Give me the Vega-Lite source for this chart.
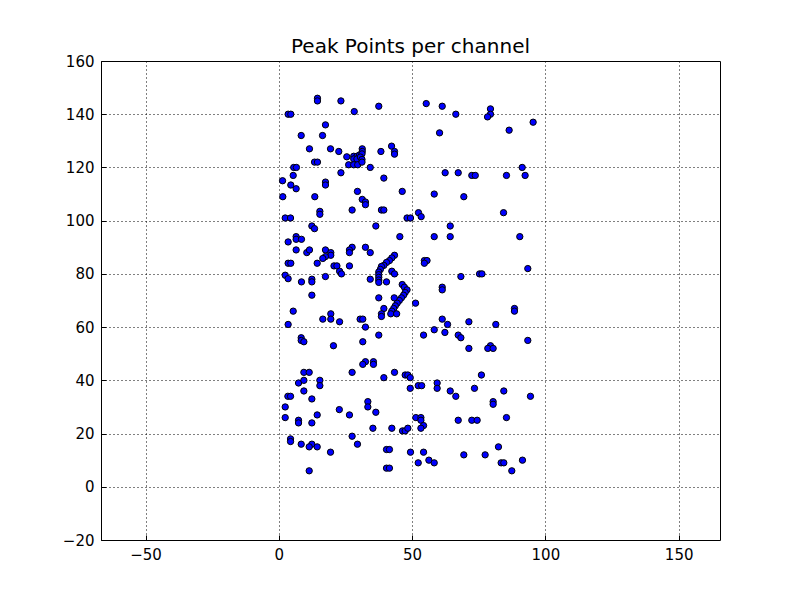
{
  "$schema": "https://vega.github.io/schema/vega-lite/v6.json",
  "width": 800,
  "height": 600,
  "autosize": {"type": "fit", "contains": "padding"},
  "padding": {"left": 62, "right": 80, "top": 37, "bottom": 38},
  "background": "white",
  "title": {"text": "Peak Points per channel", "font": "DejaVu Sans", "fontSize": 20, "fontWeight": "normal", "color": "black", "offset": -3},
  "config": {
    "view": {"stroke": "black", "strokeWidth": 1},
    "axis": {
      "labelFont": "DejaVu Sans", "labelFontSize": 15, "labelColor": "black",
      "grid": true, "gridColor": "black", "gridDash": [1, 3], "gridOpacity": 1, "gridWidth": 1,
      "domain": false, "tickColor": "black", "tickSize": -5, "labelPadding": 12, "title": null
    }
  },
  "data": {"values": [
    {"x":14.5,"y":146},{"x":14.5,"y":145},{"x":23.3,"y":145},{"x":3.5,"y":140},{"x":4.5,"y":140},
    {"x":17.5,"y":136},{"x":8.4,"y":132},{"x":16.4,"y":132},{"x":11.5,"y":127},{"x":19.4,"y":127},
    {"x":22.5,"y":126},{"x":13.4,"y":122},{"x":14.5,"y":122},{"x":5.6,"y":120},{"x":6.6,"y":120},
    {"x":23.3,"y":118},{"x":5.4,"y":117},{"x":1.4,"y":115},{"x":17.5,"y":114.5},{"x":17.5,"y":113.4},
    {"x":4.5,"y":113.4},{"x":6.5,"y":112},{"x":1.5,"y":109},{"x":13.5,"y":109},{"x":15.4,"y":103.5},
    {"x":15.4,"y":102.4},{"x":2.4,"y":101},{"x":4.4,"y":101},{"x":28.3,"y":141},{"x":37.5,"y":143},
    {"x":31.3,"y":127},{"x":31.3,"y":126},{"x":25.5,"y":124},{"x":28.1,"y":124.2},{"x":29.3,"y":124.2},
    {"x":30.3,"y":124.7},{"x":31.2,"y":125.1},{"x":28.1,"y":123.2},{"x":29.3,"y":123.2},{"x":30.6,"y":123.9},
    {"x":31.2,"y":123},{"x":26.2,"y":121},{"x":28.1,"y":121},{"x":29.6,"y":121},{"x":31.2,"y":122},
    {"x":34.3,"y":120},{"x":38.3,"y":126},{"x":42.3,"y":128},{"x":43.4,"y":126},{"x":43.4,"y":125},
    {"x":39.4,"y":116},{"x":29.5,"y":111},{"x":31.3,"y":108},{"x":32.5,"y":107},{"x":32.5,"y":106},
    {"x":46.3,"y":111},{"x":27.5,"y":104},{"x":38.5,"y":104},{"x":39.4,"y":104},{"x":55.3,"y":144},
    {"x":61.3,"y":143},{"x":66.4,"y":140},{"x":60.3,"y":133},{"x":62.4,"y":118},{"x":67.3,"y":118},
    {"x":72.4,"y":117},{"x":73.7,"y":117},{"x":58.3,"y":110},{"x":69.4,"y":109},{"x":52.4,"y":103},
    {"x":53.4,"y":101.5},{"x":48.1,"y":101},{"x":49.4,"y":101},{"x":79.4,"y":142},{"x":79.4,"y":140},
    {"x":78.3,"y":139},{"x":95.4,"y":137},{"x":86.4,"y":134},{"x":91.3,"y":120},{"x":85.4,"y":117},
    {"x":92.4,"y":117},{"x":84.3,"y":103},{"x":12.4,"y":98},{"x":13.4,"y":97},{"x":3.5,"y":92},
    {"x":6.5,"y":94},{"x":6.5,"y":93},{"x":8.5,"y":93},{"x":6.5,"y":89},{"x":10.5,"y":88},
    {"x":11.5,"y":89},{"x":17.5,"y":89},{"x":19.5,"y":88},{"x":19.5,"y":87},{"x":17.5,"y":86.5},
    {"x":16.5,"y":85.8},{"x":14.4,"y":84},{"x":3.5,"y":84},{"x":4.5,"y":84},{"x":20.7,"y":83},
    {"x":21.8,"y":83},{"x":22.8,"y":81},{"x":17.5,"y":79},{"x":2.4,"y":79.5},{"x":3.5,"y":78.2},
    {"x":8.5,"y":77},{"x":12.4,"y":78},{"x":12.4,"y":77},{"x":12.4,"y":72},{"x":5.4,"y":66},
    {"x":19.5,"y":65},{"x":19.5,"y":63},{"x":16.5,"y":63},{"x":3.5,"y":61},{"x":22.8,"y":62},
    {"x":8.4,"y":56},{"x":8.4,"y":55},{"x":9.4,"y":54.5},{"x":20.5,"y":53},{"x":9.4,"y":43},
    {"x":11.4,"y":43},{"x":7.4,"y":39},{"x":9.4,"y":40},{"x":15.4,"y":40},{"x":15.4,"y":38},
    {"x":9.4,"y":36},{"x":3.4,"y":34},{"x":4.4,"y":34},{"x":12.4,"y":33},{"x":2.4,"y":30},
    {"x":22.7,"y":29},{"x":14.4,"y":27},{"x":2.4,"y":26},{"x":7.4,"y":25},{"x":7.4,"y":24},
    {"x":12.4,"y":24},{"x":4.4,"y":18},{"x":4.4,"y":17},{"x":8.4,"y":16},{"x":12.4,"y":16},
    {"x":11.4,"y":15},{"x":14.4,"y":15},{"x":19.4,"y":13},{"x":11.4,"y":6},{"x":36.4,"y":98},
    {"x":45.4,"y":94},{"x":27.5,"y":90},{"x":26.5,"y":89},{"x":26.5,"y":88},{"x":32.5,"y":90},
    {"x":34.3,"y":88},{"x":26.5,"y":83},{"x":23.5,"y":80},{"x":43.4,"y":87},{"x":42.4,"y":86},
    {"x":41.5,"y":85},{"x":40.4,"y":84.3},{"x":39.4,"y":83.2},{"x":38.5,"y":82.8},{"x":38.1,"y":81.7},
    {"x":37.5,"y":80.7},{"x":37.5,"y":79.7},{"x":37.5,"y":78.7},{"x":37.5,"y":77.7},{"x":37.5,"y":76.8},
    {"x":42.4,"y":81},{"x":43.4,"y":80},{"x":34.3,"y":78},{"x":40.4,"y":77},{"x":46.3,"y":76},
    {"x":47.1,"y":75},{"x":37.5,"y":71},{"x":48.1,"y":74},{"x":47.4,"y":73},{"x":46.8,"y":72},
    {"x":46,"y":71},{"x":45.2,"y":70},{"x":44.4,"y":69},{"x":43.7,"y":68},{"x":43.1,"y":67},
    {"x":42.4,"y":66},{"x":42,"y":65},{"x":43.3,"y":71},{"x":44.2,"y":65},{"x":39.4,"y":67},
    {"x":38.5,"y":65},{"x":38.5,"y":64},{"x":30.5,"y":63},{"x":31.5,"y":63},{"x":32.5,"y":60},
    {"x":37.5,"y":57},{"x":31.5,"y":54.5},{"x":32.5,"y":47},{"x":31.5,"y":46},{"x":35.5,"y":47},
    {"x":35.5,"y":46},{"x":27.5,"y":43},{"x":39.4,"y":41},{"x":43.4,"y":43},{"x":47.4,"y":42},
    {"x":48.4,"y":42},{"x":49.3,"y":41},{"x":49.3,"y":37},{"x":33.4,"y":32},{"x":33.4,"y":30},
    {"x":26.5,"y":27},{"x":36.4,"y":28},{"x":27.5,"y":19},{"x":29.5,"y":16},{"x":35.3,"y":22},
    {"x":42.4,"y":22},{"x":46.4,"y":21},{"x":47.4,"y":21},{"x":48.4,"y":22},{"x":40.4,"y":14},
    {"x":41.5,"y":14},{"x":49.4,"y":13},{"x":40.4,"y":7},{"x":41.5,"y":7},{"x":64.3,"y":98},
    {"x":58.3,"y":94},{"x":64.3,"y":94},{"x":54.6,"y":85},{"x":55.6,"y":85},{"x":54.6,"y":84},
    {"x":68.3,"y":79},{"x":75.3,"y":80},{"x":61.3,"y":75},{"x":61.3,"y":74},{"x":51.3,"y":69},
    {"x":61.3,"y":63},{"x":63.3,"y":61},{"x":71.3,"y":62},{"x":58.3,"y":59},{"x":62.3,"y":58},
    {"x":54.3,"y":57},{"x":67.3,"y":57},{"x":68.3,"y":56},{"x":71.3,"y":52},{"x":52.3,"y":38},
    {"x":53.6,"y":38},{"x":59.4,"y":39},{"x":59.4,"y":37},{"x":64.3,"y":36},{"x":66.4,"y":34},
    {"x":73.4,"y":37},{"x":76,"y":42},{"x":51.4,"y":26},{"x":53.3,"y":26},{"x":53.3,"y":25},
    {"x":54.3,"y":23},{"x":53.3,"y":22},{"x":67.3,"y":25},{"x":72.4,"y":25},{"x":74.4,"y":25},
    {"x":54.3,"y":13},{"x":52.3,"y":9},{"x":56.3,"y":10},{"x":58.3,"y":9},{"x":69.4,"y":12},
    {"x":90.4,"y":94},{"x":93.4,"y":82},{"x":76.2,"y":80},{"x":88.4,"y":67},{"x":88.4,"y":66},
    {"x":81.4,"y":61},{"x":79.4,"y":53},{"x":78.4,"y":52},{"x":80.4,"y":52},{"x":93.4,"y":55},
    {"x":84.4,"y":36},{"x":94.4,"y":34},{"x":80.4,"y":32},{"x":80.4,"y":31},{"x":85.4,"y":26},
    {"x":82.4,"y":15},{"x":77.4,"y":12},{"x":83.4,"y":9},{"x":84.4,"y":9},{"x":91.4,"y":10},
    {"x":87.4,"y":6}
  ]},
  "mark": {"type": "point", "filled": true, "fill": "#0000ff", "stroke": "black", "strokeWidth": 1, "size": 40, "opacity": 1, "clip": true},
  "encoding": {
    "x": {"field": "x", "type": "quantitative", "scale": {"domain": [-66.7, 165.5], "nice": false, "zero": false},
          "axis": {"values": [-50, 0, 50, 100, 150]}},
    "y": {"field": "y", "type": "quantitative", "scale": {"domain": [-20, 160], "nice": false, "zero": false},
          "axis": {"values": [-20, 0, 20, 40, 60, 80, 100, 120, 140, 160]}}
  }
}
